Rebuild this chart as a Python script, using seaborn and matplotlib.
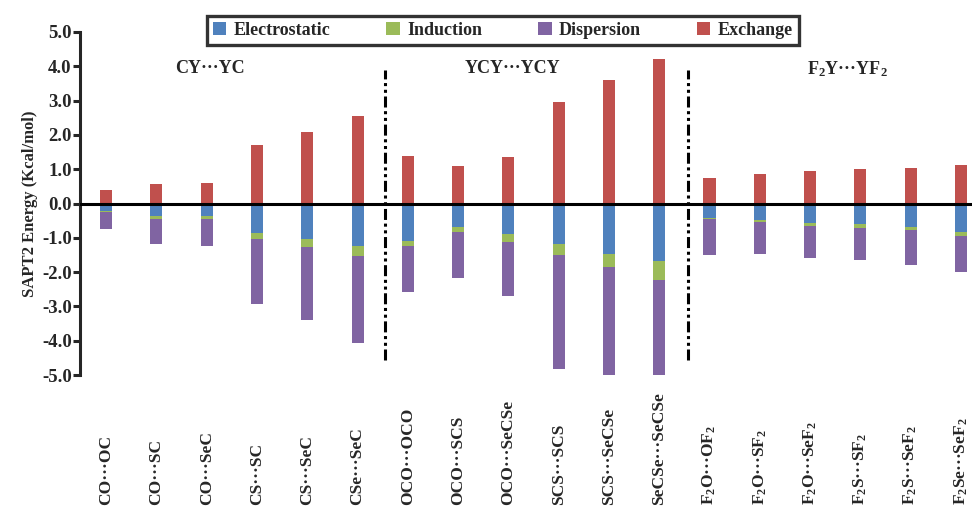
import pandas as pd
import seaborn as sns
import matplotlib.pyplot as plt
import matplotlib.transforms as mtransforms

# SAPT2 energy components (kcal/mol) per dimer
pairs = ['CO···OC', 'CO···SC', 'CO···SeC', 'CS···SC', 'CS···SeC', 'CSe···SeC',
         'OCO···OCO', 'OCO···SCS', 'OCO···SeCSe', 'SCS···SCS', 'SCS···SeCSe', 'SeCSe···SeCSe',
         'F$_2$O···OF$_2$', 'F$_2$O···SF$_2$', 'F$_2$O···SeF$_2$', 'F$_2$S···SF$_2$',
         'F$_2$S···SeF$_2$', 'F$_2$Se···SeF$_2$']
electrostatic = [-0.21, -0.36, -0.36, -0.87, -1.03, -1.23, -1.10, -0.68, -0.89,
                 -1.19, -1.48, -1.69, -0.41, -0.49, -0.58, -0.59, -0.68, -0.82]
induction = [-0.05, -0.08, -0.08, -0.16, -0.24, -0.30, -0.15, -0.16, -0.23,
             -0.30, -0.38, -0.55, -0.04, -0.06, -0.07, -0.11, -0.08, -0.12]
dispersion = [-0.49, -0.73, -0.79, -1.89, -2.13, -2.53, -1.33, -1.33, -1.59,
              -3.34, -3.16, -2.78, -1.05, -0.92, -0.93, -0.96, -1.03, -1.07]
exchange = [0.39, 0.56, 0.59, 1.72, 2.09, 2.55, 1.38, 1.10, 1.35,
            2.96, 3.61, 4.22, 0.75, 0.87, 0.95, 1.01, 1.04, 1.12]
groups = ['CY···YC', 'YCY···YCY', 'F$_2$Y···YF$_2$']

df = pd.DataFrame({'pair': pairs, 'Electrostatic': electrostatic, 'Induction': induction,
                   'Dispersion': dispersion, 'Exchange': exchange})
df['ind_base'] = df['Electrostatic']
df['disp_base'] = df['Electrostatic'] + df['Induction']

sns.set_style('ticks')
plt.rcParams['font.family'] = ['Liberation Serif', 'DejaVu Serif']
plt.rcParams['font.weight'] = 'bold'
plt.rcParams['mathtext.fontset'] = 'custom'
plt.rcParams['mathtext.rm'] = 'Liberation Serif:bold'
plt.rcParams['mathtext.it'] = 'Liberation Serif:bold'
plt.rcParams['mathtext.bf'] = 'Liberation Serif:bold'
plt.rcParams['axes.unicode_minus'] = False

fig = plt.figure(figsize=(9.72, 5.08), dpi=100)
ax = fig.add_axes([80 / 972, 1 - 375 / 508, 892 / 972, 343 / 508])

colors = {'Electrostatic': '#4F81BD', 'Induction': '#9BBB59',
          'Dispersion': '#8064A2', 'Exchange': '#C0504D'}
w = 0.24
sns.barplot(data=df, x='pair', y='Electrostatic', color=colors['Electrostatic'], saturation=1,
            width=w, errorbar=None, linewidth=0, label='Electrostatic', ax=ax)
sns.barplot(data=df, x='pair', y='Induction', bottom=df['ind_base'], color=colors['Induction'],
            saturation=1, width=w, errorbar=None, linewidth=0, label='Induction', ax=ax)
sns.barplot(data=df, x='pair', y='Dispersion', bottom=df['disp_base'], color=colors['Dispersion'],
            saturation=1, width=w, errorbar=None, linewidth=0, label='Dispersion', ax=ax)
sns.barplot(data=df, x='pair', y='Exchange', color=colors['Exchange'], saturation=1,
            width=w, errorbar=None, linewidth=0, label='Exchange', ax=ax)

ax.set_xlim(-0.52, 17.22)
ax.set_ylim(-5, 5)
ax.axhline(0, color='black', lw=2.2, zorder=5)

# group separators
ax.vlines([5.55, 11.57], -4.55, 3.9, colors='black', lw=2.2,
          linestyles=[(0, (3.6, 1.2, 1, 1.2, 1, 1.2))], zorder=5)

# group titles
for xg, name in zip([2.07, 8.09, 14.75], groups):
    ax.text(xg, 3.93, name, ha='center', va='center', fontsize=13, fontweight='bold')

# axes styling
ax.set_yticks(range(-5, 6))
ax.set_yticklabels([f'{v:.1f}' for v in range(-5, 6)], fontsize=13.5, fontweight='bold')
ax.tick_params(axis='y', direction='out', length=5, width=2.2, pad=1)
ax.tick_params(axis='x', length=0, labelbottom=False)
ax.set_xlabel('')
ax.set_ylabel('SAPT2 Energy (Kcal/mol)', fontsize=12, fontweight='bold', labelpad=3)
for s in ['top', 'right', 'bottom']:
    ax.spines[s].set_visible(False)
ax.spines['left'].set_linewidth(2.2)

# rotated pair labels, bottom aligned
trans = mtransforms.blended_transform_factory(ax.transData, ax.transAxes)
for i, p in enumerate(pairs):
    ax.text(i, -0.379, p, rotation=90, ha='center', va='bottom', fontsize=12.5,
            fontweight='bold', transform=trans, clip_on=False)

handles, labels = ax.get_legend_handles_labels()
order = ['Electrostatic', 'Induction', 'Dispersion', 'Exchange']
hmap = dict(zip(labels, handles))
leg = ax.legend([hmap[k] for k in order], order, loc='center', bbox_to_anchor=(0.474, 1.005),
                ncol=4, frameon=True, fancybox=False, handlelength=0.75,
                handleheight=0.75, handletextpad=0.4, columnspacing=3.1, borderpad=0.32,
                prop={'weight': 'bold', 'size': 13})
leg.get_frame().set_edgecolor('black')
leg.get_frame().set_linewidth(2.4)

fig.savefig('out.png', dpi=100)
